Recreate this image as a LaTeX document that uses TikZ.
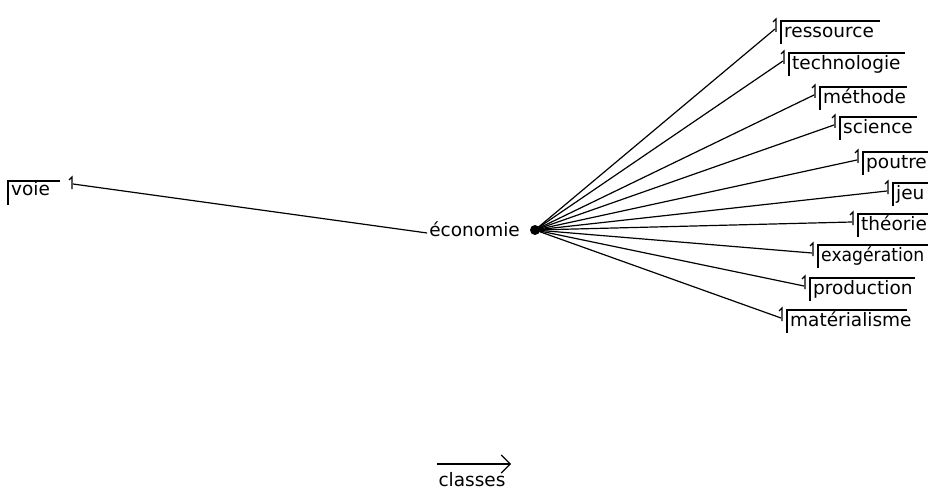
\documentclass[tikz,border=0pt]{standalone}
\usepackage{fontspec}
\setmainfont{DejaVu Sans}
\usetikzlibrary{arrows.meta}
\tikzset{
  lbl/.style={font=\fontsize{18.5}{20}\selectfont, inner sep=0pt, anchor=west, text height=10pt, text depth=3pt},
  conn/.style={line width=1.2pt, black},
  brk/.style={line width=1.1pt, black},
}
% \satlabel{name}{bx}{T}{right}{text}
\newcommand{\satlabel}[5]{%
  \coordinate (#1t) at (#2-6,#3+8);
  \node[lbl] (#1) at (#2+3,#3+13) {#5};
  \draw[brk] (#2,#3+23) -- (#2,#3) -- (#4,#3);
  \draw[brk] (#2-5,#3+11) -- (#2-5,#3-2) -- (#2-8,#3+1);
}
\begin{document}
\begin{tikzpicture}[x=1pt,y=-1pt]
\useasboundingbox (0,0) rectangle (928,497);
\fill[white] (0,0) rectangle (928,497);

% hub
\node[lbl, anchor=east] (eco) at (520,233) {économie};
\node[fill=black, circle, inner sep=0pt, minimum size=10pt] (hub) at (535,230) {};

% left: voie
\node[lbl] (voie) at (11,192) {voie};
\draw[brk] (8,205) -- (8,181) -- (60,181);
\draw[brk] (72,189) -- (72,177) -- (69,180);
\coordinate (voiet) at (73,184);
\draw[conn] (voiet) -- ([xshift=-2pt]eco.west);

\satlabel{n1}{781}{21}{880}{ressource}
\satlabel{n2}{789}{53}{905}{technologie}
\satlabel{n3}{820}{87}{907}{méthode}
\satlabel{n4}{840}{117}{917}{science}
\satlabel{n5}{863}{152}{930}{poutre}
\satlabel{n6}{893}{183}{930}{jeu}
\satlabel{n7}{858}{214}{930}{théorie}
\satlabel{n8}{818}{245}{930}{\scalebox{0.93}[1]{exagération}}
\satlabel{n9}{810}{278}{915}{production}
\satlabel{n10}{787}{310}{907}{matérialisme}

\foreach \i in {1,...,10} \draw[conn] (hub.center) -- (n\i t);

% legend
\node[lbl, anchor=center] (cls) at (472,483) {classes};
\coordinate (a1) at (437,464);
\coordinate (a2) at (511,464);
\draw[line width=1.1pt, -{Straight Barb[length=9pt,width=18pt,line width=1.1pt]}] (a1) -- (a2);
\end{tikzpicture}
\end{document}
